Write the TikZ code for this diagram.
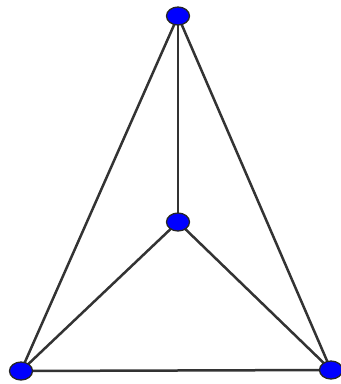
\documentclass[tikz,border=0pt]{standalone}
\usetikzlibrary{shapes.geometric,backgrounds}
\begin{document}
\begin{tikzpicture}[x=1pt,y=-1pt,
  vtx/.style={ellipse,draw=black!85,line width=1.3pt,fill=blue,minimum width=23pt,minimum height=18pt,inner sep=0pt},
  edge/.style={draw=black!80,line width=2.5pt}]
\useasboundingbox (0,0) rectangle (341,384);
\node[vtx] (t) at (178,16) {};
\node[vtx] (c) at (178,222) {};
\node[vtx] (l) at (21,371) {};
\node[vtx] (r) at (331,370) {};
\begin{scope}[on background layer]
\draw[edge] (t.center) -- (c.center);
\draw[edge] (t.center) -- (l.center);
\draw[edge] (t.center) -- (r.center);
\draw[edge] (c.center) -- (l.center);
\draw[edge] (c.center) -- (r.center);
\draw[edge] (l.center) -- (r.center);
\end{scope}
\end{tikzpicture}
\end{document}
